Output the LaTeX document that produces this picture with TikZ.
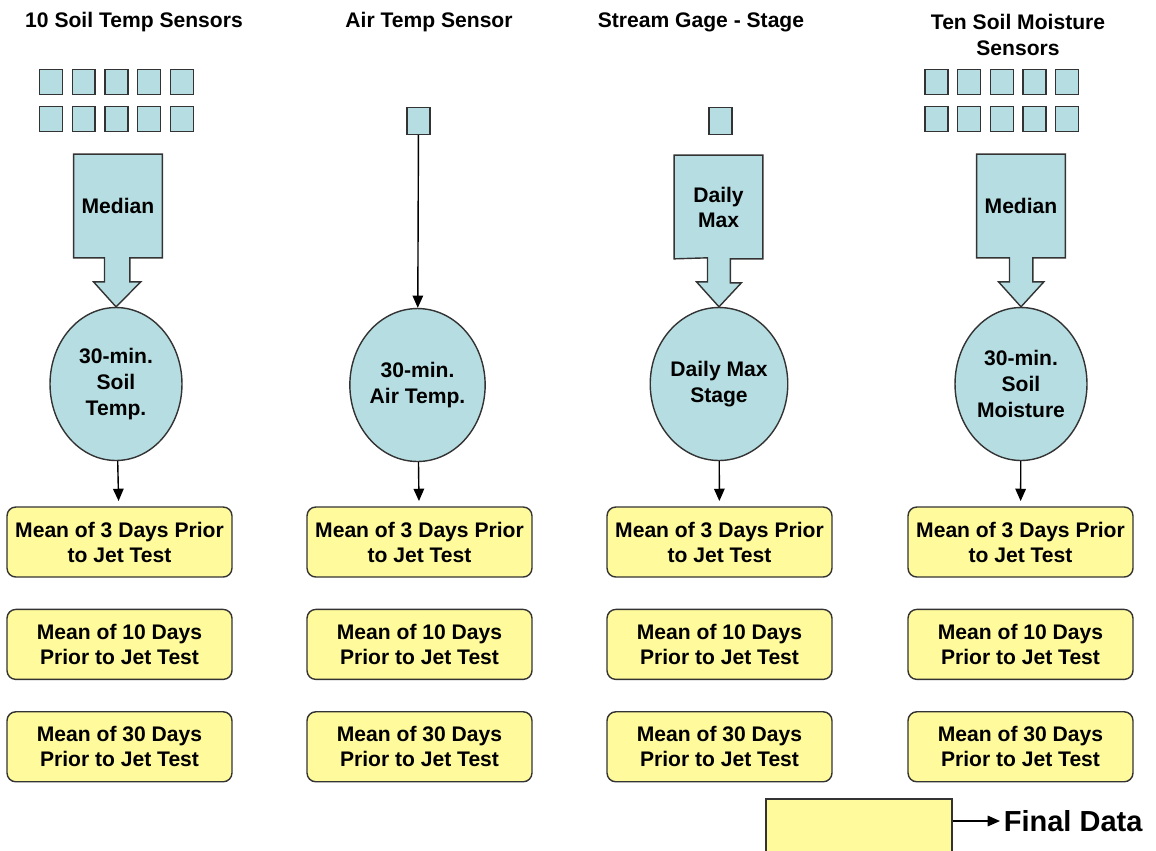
\documentclass[tikz,border=0pt]{standalone}
\usepackage{fontspec}
\setmainfont{Liberation Sans}
\usetikzlibrary{positioning,arrows.meta,shapes.geometric,backgrounds}
\definecolor{sensorblue}{RGB}{182,222,226}
\definecolor{finalyellow}{RGB}{255,250,156}

\begin{document}
\begin{tikzpicture}[
  x=0.02cm, y=-0.02cm,
  font=\bfseries\fontsize{12}{14.2}\selectfont,
  >={Triangle[length=7pt,width=6pt]},
  node distance=0.62cm,
  border/.style={draw=black!80, line width=0.8pt},
  sensor/.style={border, fill=sensorblue, minimum width=0.46cm, minimum height=0.5cm, inner sep=0pt},
  calcbox/.style={minimum width=1.76cm, minimum height=2.06cm, align=center, inner sep=2pt},
  series/.style={ellipse, border, fill=sensorblue, minimum width=2.64cm, minimum height=3.06cm,
                 align=center, inner sep=0pt, font=\bfseries\fontsize{12}{14.7}\selectfont},
  final/.style={border, fill=finalyellow, rounded corners=5pt, minimum width=4.5cm,
                minimum height=1.4cm, align=center, inner sep=2pt},
  link/.style={->, line width=0.8pt, shorten >=3pt}
]
\useasboundingbox (0,0) rectangle (1156,850);
\clip (0,0) rectangle (1156,850);

% titles
\node (sttitle) at (134,22) {10 Soil Temp Sensors};
\node (attitle) at (429,22) {Air Temp Sensor};
\node (sgtitle) at (701,22) {Stream Gage - Stage};
\node[align=center, font=\bfseries\fontsize{12}{14.7}\selectfont] (smtitle) at (1018,35) {Ten Soil Moisture\\Sensors};

% sensors
\foreach \i in {0,...,4} {
  \node[sensor] (sta\i) at (51+32.7*\i,82) {};
  \node[sensor] (stb\i) at (51+32.7*\i,119) {};
  \node[sensor] (sma\i) at (936.5+32.6*\i,82) {};
  \node[sensor] (smb\i) at (936.5+32.6*\i,119) {};
}
\node[sensor, minimum height=0.54cm] (air) at (418.5,121) {};
\node[sensor, minimum height=0.54cm] (gage) at (720.5,121) {};

% 30-min. / daily series
\node[series] (soiltemp) at (116,384) {30-min.\\Soil\\Temp.};
\node[series] (airtemp) at (417.5,385) {30-min.\\Air Temp.};
\node[series] (stage) at (719,384) {Daily Max\\Stage};
\node[series] (moist) at (1021,384) {30-min.\\Soil\\Moisture};

% callouts
\node[calcbox] (stmedian) at (118,206) {Median};
\node[calcbox] (sgmax) at (718.5,207) {Daily\\Max};
\node[calcbox] (smmedian) at (1021,206) {Median};
\begin{scope}[on background layer]
\foreach \c/\e in {stmedian/soiltemp, sgmax/stage, smmedian/moist}
  \draw[border, fill=sensorblue] (\c.north west) -- (\c.north east) -- (\c.south east)
    -- ++(-32.5,0) -- ++(0,24) -- ++(11,0) -- (\e.north) -- ++(-22.5,-25)
    -- ++(11,0) -- ++(0,-24) -- (\c.south west) -- cycle;
\end{scope}
\draw[link, shorten >=0pt] (air) -- (airtemp);

% final data
\foreach \c/\x/\e in {st/119.5/soiltemp, at/419.5/airtemp, sg/719.5/stage, sm/1020.5/moist} {
  \node[final] (\c3d) at (\x,542) {Mean of 3 Days Prior\\to Jet Test};
  \node[final, below=of \c3d] (\c10d) {Mean of 10 Days\\Prior to Jet Test};
  \node[final, below=of \c10d] (\c30d) {Mean of 30 Days\\Prior to Jet Test};
  \draw[link] (\e) -- (\c3d);
}

% key
\node[border, fill=finalyellow, minimum width=3.72cm, minimum height=1.14cm] (key) at (859,827.5) {};
\node[anchor=west, inner sep=2pt, font=\bfseries\fontsize{16.5}{18}\selectfont] (keylabel) at (1000,821) {Final Data};
\draw[->, line width=0.8pt] (key.east |- keylabel.west) -- (keylabel.west);
\end{tikzpicture}
\end{document}
